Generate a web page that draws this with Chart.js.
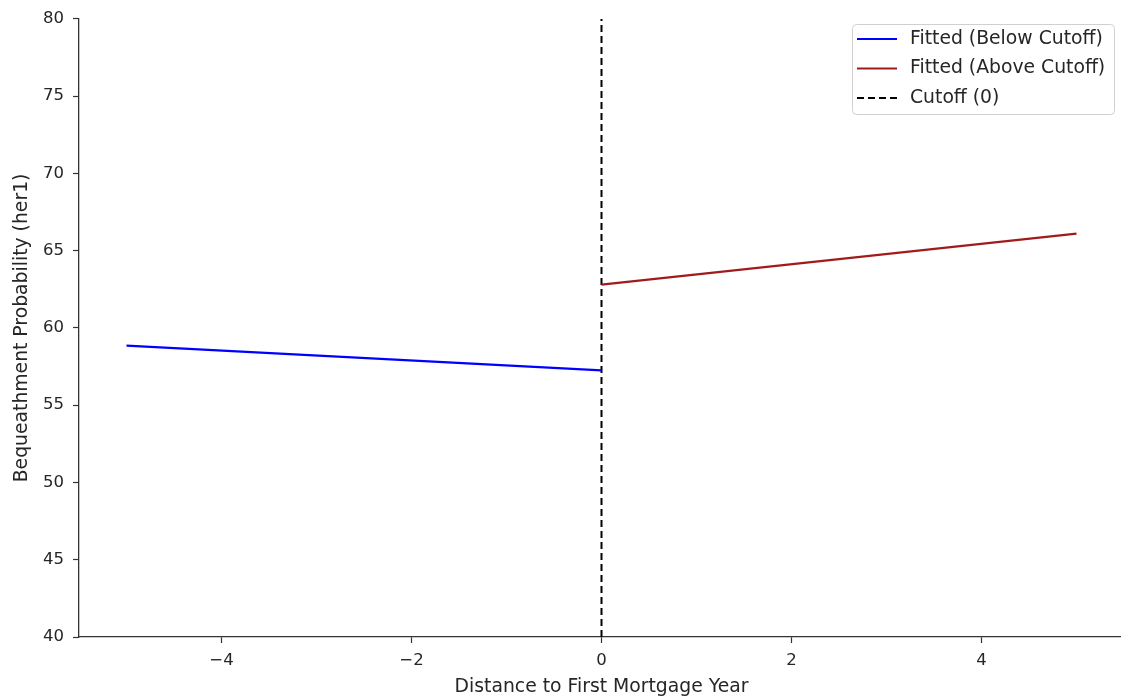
<!DOCTYPE html>
<html>
<head>
<meta charset="utf-8">
<script src="https://cdn.jsdelivr.net/npm/chart.js@4/dist/chart.umd.min.js"></script>
<style>
  html, body { margin: 0; padding: 0; background: #fff; overflow: hidden; }
  #wrap { position: relative; width: 1126px; height: 699px; }
</style>
</head>
<body>
<div id="wrap"><canvas id="c" width="1126" height="699"></canvas></div>
<script>
// Fitted lines on each side of the cutoff
const distBelow = [-5, 0];
const probBelow = [58.85, 57.25];
const distAbove = [0, 5];
const probAbove = [62.8, 66.1];
const cutoffX = [0, 0];
const cutoffY = [40, 80];

const xTicks = [-4, -2, 0, 2, 4];
const yTicks = [40, 45, 50, 55, 60, 65, 70, 75, 80];

const seriesLabels = ['Fitted (Below Cutoff)', 'Fitted (Above Cutoff)', 'Cutoff (0)'];
const xTitle = 'Distance to First Mortgage Year';
const yTitle = 'Bequeathment Probability (her1)';

const FONT = 'DejaVu Sans';
const TEXT = '#262626';
const AXIS = '#333333';

const toPoints = (xs, ys) => xs.map((x, i) => ({ x: x, y: ys[i] }));

// Legend in a rounded box, upper right
const legendBox = {
  id: 'legendBox',
  afterDraw(chart) {
    const ctx = chart.ctx;
    const x0 = 852, y0 = 24, w = 262, h = 90;
    ctx.save();
    ctx.fillStyle = 'rgba(255,255,255,0.8)';
    ctx.strokeStyle = '#d0d0d0';
    ctx.lineWidth = 1;
    ctx.beginPath();
    ctx.roundRect(x0 + 0.5, y0 + 0.5, w, h, 4);
    ctx.fill();
    ctx.stroke();
    const rows = [39, 68.5, 98];
    chart.data.datasets.forEach((ds, i) => {
      const y = rows[i];
      ctx.strokeStyle = ds.borderColor;
      ctx.lineWidth = ds.borderWidth;
      ctx.setLineDash(ds.borderDash || []);
      ctx.beginPath();
      ctx.moveTo(857, y);
      ctx.lineTo(897, y);
      ctx.stroke();
      ctx.setLineDash([]);
      ctx.fillStyle = TEXT;
      ctx.font = '18.8px "' + FONT + '"';
      ctx.textBaseline = 'middle';
      ctx.textAlign = 'left';
      ctx.fillText(ds.label, 910, y);
    });
    ctx.restore();
  }
};

new Chart(document.getElementById('c'), {
  type: 'scatter',
  data: {
    datasets: [
      {
        label: seriesLabels[0],
        data: toPoints(distBelow, probBelow),
        showLine: true, borderColor: '#0000ff', borderWidth: 2.2,
        pointRadius: 0, tension: 0
      },
      {
        label: seriesLabels[1],
        data: toPoints(distAbove, probAbove),
        showLine: true, borderColor: '#a01c1c', borderWidth: 2.2,
        pointRadius: 0, tension: 0
      },
      {
        label: seriesLabels[2],
        data: toPoints(cutoffX, cutoffY),
        showLine: true, borderColor: '#000000', borderWidth: 2,
        borderDash: [7, 4], pointRadius: 0, tension: 0
      }
    ]
  },
  options: {
    responsive: false,
    animation: false,
    layout: { padding: { top: 15, right: 2, left: 0, bottom: 0 } },
    plugins: { legend: { display: false }, tooltip: { enabled: false } },
    scales: {
      x: {
        type: 'linear', min: -5.5, max: 5.5,
        afterFit(s) { s.height = 62; },
        afterBuildTicks(s) { s.ticks = xTicks.map(v => ({ value: v })); },
        grid: { drawOnChartArea: false, drawTicks: true, tickLength: 6, color: AXIS, tickWidth: 1.2 },
        border: { display: true, color: AXIS, width: 1.3 },
        ticks: {
          color: TEXT, padding: 8, font: { family: FONT, size: 16.5 },
          callback: v => (v < 0 ? '\u2212' + Math.abs(v) : String(v))
        },
        title: {
          display: true, text: xTitle, color: TEXT,
          font: { family: FONT, size: 18.8 }, padding: { top: 4, bottom: 1 }
        }
      },
      y: {
        type: 'linear', min: 40, max: 80,
        afterFit(s) { s.width = 79; },
        afterBuildTicks(s) { s.ticks = yTicks.map(v => ({ value: v })); },
        grid: { drawOnChartArea: false, drawTicks: true, tickLength: 6, color: AXIS, tickWidth: 1.2 },
        border: { display: true, color: AXIS, width: 1.3 },
        ticks: { color: TEXT, padding: 9, font: { family: FONT, size: 16.5 } },
        title: {
          display: true, text: yTitle, color: TEXT,
          font: { family: FONT, size: 18.8 }, padding: { top: 11, bottom: 4 }
        }
      }
    }
  },
  plugins: [legendBox]
});
</script>
</body>
</html>
